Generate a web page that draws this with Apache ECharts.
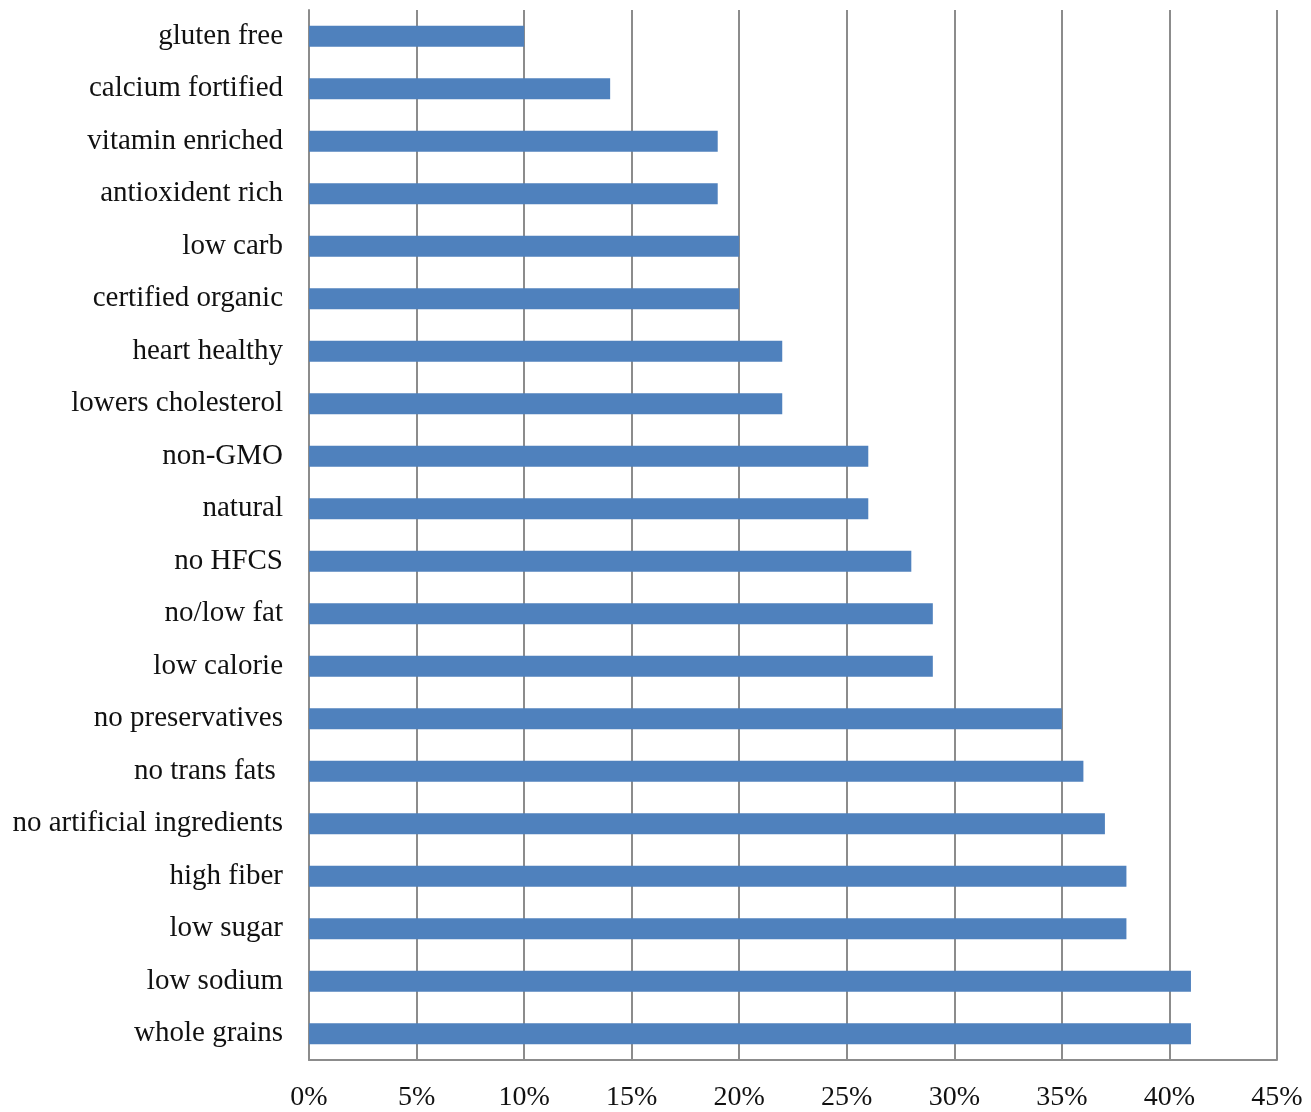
<!DOCTYPE html>
<html>
<head>
<meta charset="utf-8">
<script src="https://cdn.jsdelivr.net/npm/echarts@6/dist/echarts.min.js"></script>
<style>
  * { margin: 0; padding: 0; }
  body { background: #fff; }
  #chart { width: 1311px; height: 1112px; }
</style>
</head>
<body>
<div id="chart"></div>
<script>
// categories listed bottom to top (category axis starts at the bottom)
const categories = [
  "whole grains", "low sodium", "low sugar", "high fiber",
  "no artificial ingredients", "no trans fats ", "no preservatives",
  "low calorie", "no/low fat", "no HFCS", "natural", "non-GMO",
  "lowers cholesterol", "heart healthy", "certified organic", "low carb",
  "antioxident rich", "vitamin enriched", "calcium fortified", "gluten free"
];
const values = [
  0.41, 0.41, 0.38, 0.38, 0.37, 0.36, 0.35, 0.29, 0.29, 0.28,
  0.26, 0.26, 0.22, 0.22, 0.20, 0.20, 0.19, 0.19, 0.14, 0.10
];
const xMax = 0.45;
const xStep = 0.05;

const fontFamily = "'Liberation Serif', 'DejaVu Serif', serif";
const gridColor = "#8c8c8c";

const chart = echarts.init(document.getElementById("chart"), null, { renderer: "canvas" });

const option = {
  animation: false,
  grid: {
    left: 309,
    right: 34,
    top: 10,
    bottom: 51,
    containLabel: false
  },
  xAxis: {
    type: "value",
    min: 0,
    max: xMax,
    interval: xStep,
    axisLine: { show: true, lineStyle: { color: gridColor, width: 2 } },
    axisTick: { show: false },
    splitLine: { show: true, lineStyle: { color: gridColor, width: 2 } },
    axisLabel: {
      margin: 24,
      color: "#111",
      fontSize: 28,
      fontFamily: fontFamily,
      formatter: v => Math.round(v * 100) + "%"
    }
  },
  yAxis: {
    type: "category",
    data: categories,
    axisLine: { show: true, lineStyle: { color: gridColor, width: 2 } },
    axisTick: { show: false },
    splitLine: { show: false },
    axisLabel: {
      margin: 26,
      color: "#111",
      fontSize: 29,
      padding: [8, 0, 0, 0],
      fontFamily: fontFamily
    }
  },
  series: [
    {
      type: "bar",
      data: values,
      barWidth: "40%",
      itemStyle: { color: "#4f81bd" }
    }
  ]
};

chart.setOption(option);
window.addEventListener("resize", chart.resize);
</script>
</body>
</html>
